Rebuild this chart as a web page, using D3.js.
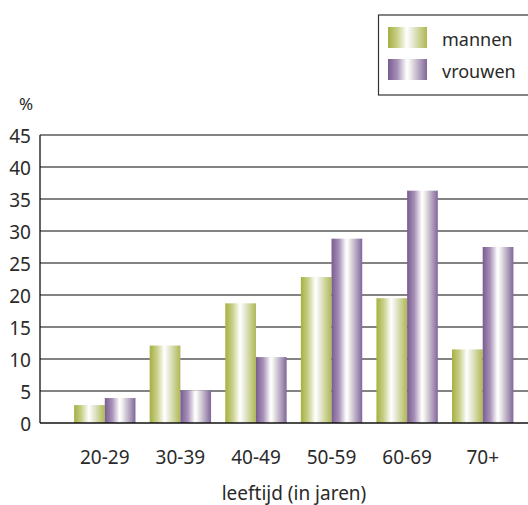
<!DOCTYPE html>
<html>
<head>
<meta charset="utf-8">
<script src="https://cdn.jsdelivr.net/npm/d3@7/dist/d3.min.js"></script>
<style>
  html, body { margin: 0; padding: 0; background: #fff; }
  svg { display: block; font-family: "Noto Sans", "Open Sans", sans-serif; }
</style>
</head>
<body>
<svg id="chart" width="528" height="505"></svg>
<script>
// Leeftijdsgroepen en percentages per geslacht
const categories = ["20-29", "30-39", "40-49", "50-59", "60-69", "70+"];
const mannen  = [2.8, 12.1, 18.7, 22.8, 19.5, 11.5];
const vrouwen = [3.9, 5.1, 10.3, 28.8, 36.3, 27.5];
const seriesNames = ["mannen", "vrouwen"];
const yTicks = [0, 5, 10, 15, 20, 25, 30, 35, 40, 45];

const svg = d3.select("#chart");
const plotLeft = 40, plotRight = 528;

const y = d3.scaleLinear().domain([0, 45]).range([423, 135]);
const x = d3.scaleBand().domain(categories).range([67, 520.5])
  .paddingInner(0.188).paddingOuter(0.094);
const xs = d3.scaleBand().domain(seriesNames).range([0, x.bandwidth()]);

// horizontal gradients giving the bars a cylindrical shine
const defs = svg.append("defs");
function shine(id, dark, mid, right) {
  const g = defs.append("linearGradient").attr("id", id)
    .attr("x1", "0%").attr("x2", "100%").attr("y1", "0%").attr("y2", "0%");
  g.append("stop").attr("offset", "0%").attr("stop-color", dark);
  g.append("stop").attr("offset", "24%").attr("stop-color", mid);
  g.append("stop").attr("offset", "48%").attr("stop-color", "#ffffff");
  g.append("stop").attr("offset", "55%").attr("stop-color", "#f4f4f0");
  g.append("stop").attr("offset", "100%").attr("stop-color", right);
}
shine("g-mannen", "#a5b040", "#c9d08a", "#aeb852");
shine("g-vrouwen", "#785c8f", "#a791b8", "#81679a");
const fills = { mannen: "url(#g-mannen)", vrouwen: "url(#g-vrouwen)" };

// gridlines
svg.append("g").selectAll("line")
  .data(yTicks.filter(d => d > 0))
  .join("line")
  .attr("x1", plotLeft).attr("x2", plotRight)
  .attr("y1", d => y(d)).attr("y2", d => y(d))
  .attr("stroke", "#5a5a5a").attr("stroke-width", 1.6);

// bars
const rows = categories.map((c, i) => ({ cat: c, mannen: mannen[i], vrouwen: vrouwen[i] }));
svg.append("g").selectAll("g")
  .data(rows)
  .join("g")
  .attr("transform", d => `translate(${x(d.cat)},0)`)
  .selectAll("rect")
  .data(d => seriesNames.map(k => ({ key: k, value: d[k] })))
  .join("rect")
  .attr("x", d => xs(d.key))
  .attr("width", xs.bandwidth())
  .attr("y", d => y(d.value))
  .attr("height", d => y(0) - y(d.value))
  .attr("fill", d => fills[d.key]);

// baseline and vertical axis line
svg.append("line").attr("x1", plotLeft).attr("x2", plotRight)
  .attr("y1", y(0)).attr("y2", y(0))
  .attr("stroke", "#111").attr("stroke-width", 1.6);
svg.append("line").attr("x1", plotLeft).attr("x2", plotLeft)
  .attr("y1", y(45)).attr("y2", y(0))
  .attr("stroke", "#111").attr("stroke-width", 1.3);

// y tick labels
const yAxis = d3.axisLeft(y).tickValues(yTicks).tickSize(0).tickPadding(9);
const ya = svg.append("g").attr("transform", `translate(${plotLeft},0)`).call(yAxis);
ya.select(".domain").remove();
ya.selectAll("text").attr("font-size", 19).attr("fill", "#2a2a2a")
  .attr("font-family", "'Noto Sans', sans-serif").attr("dy", "0.4em");

svg.append("text").attr("x", 19).attr("y", 110).attr("font-size", 17)
  .attr("fill", "#2a2a2a").text("%");

// x tick labels
const xAxis = d3.axisBottom(x).tickSize(0).tickPadding(0);
const xa = svg.append("g").attr("transform", `translate(0,${y(0)})`).call(xAxis);
xa.select(".domain").remove();
xa.selectAll("text").attr("font-size", 19).attr("fill", "#2a2a2a")
  .attr("font-family", "'Noto Sans', sans-serif").attr("dy", 0).attr("y", 41);

svg.append("text").attr("x", 294).attr("y", 500).attr("text-anchor", "middle")
  .attr("font-size", 19).attr("fill", "#2a2a2a").text("leeftijd (in jaren)");

// legend
const lg = svg.append("g");
lg.append("rect").attr("x", 378.5).attr("y", 15).attr("width", 160).attr("height", 80)
  .attr("fill", "#fff").attr("stroke", "#333").attr("stroke-width", 1.2);
seriesNames.forEach((k, i) => {
  lg.append("rect").attr("x", 388).attr("y", 27 + i * 32).attr("width", 39).attr("height", 21)
    .attr("fill", fills[k]);
  lg.append("text").attr("x", 442).attr("y", 46 + i * 32).attr("font-size", 18)
    .attr("fill", "#2a2a2a").text(k);
});
</script>
</body>
</html>
